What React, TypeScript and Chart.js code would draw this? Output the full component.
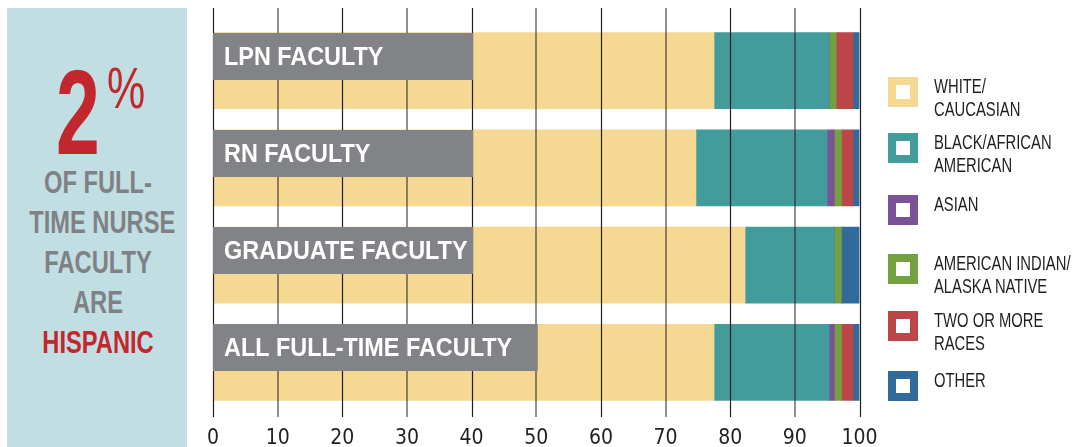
import React, { useEffect, useRef } from "react";
import { Chart, registerables } from "chart.js";

Chart.register(...registerables);

// ---- data ----
const categories = ["LPN FACULTY", "RN FACULTY", "GRADUATE FACULTY", "ALL FULL-TIME FACULTY"];
const seriesLabels = [
  ["WHITE/", "CAUCASIAN"],
  ["BLACK/AFRICAN", "AMERICAN"],
  ["ASIAN"],
  ["AMERICAN INDIAN/", "ALASKA NATIVE"],
  ["TWO OR MORE", "RACES"],
  ["OTHER"],
];
const whiteCaucasian = [77.5, 74.7, 82.3, 77.5];
const blackAfricanAmerican = [17.8, 20.3, 13.8, 17.8];
const asian = [0, 1.1, 0, 0.8];
const americanIndianAlaskaNative = [1.1, 1.1, 1.1, 1.1];
const twoOrMoreRaces = [2.6, 1.8, 0, 1.8];
const other = [1.0, 1.0, 2.8, 1.0];
const xTickValues = [0, 10, 20, 30, 40, 50, 60, 70, 80, 90, 100];
const labelBoxEnds = [40, 40, 40, 50];

const seriesColors = ["#f5d891", "#429c9b", "#7b5295", "#73a041", "#bb4748", "#316b9c"];
const seriesData = [whiteCaucasian, blackAfricanAmerican, asian, americanIndianAlaskaNative, twoOrMoreRaces, other];

const W = 1074;
const H = 447;
const SANS = "'Liberation Sans', Arial, sans-serif";
const COND = "'DejaVu Sans Condensed', sans-serif";

const overlayPlugin = {
  id: "overlay",
  afterDatasetsDraw(chart: any) {
    const ctx = chart.ctx;
    const xs = chart.scales.x;
    const ys = chart.scales.y;
    const area = chart.chartArea;
    ctx.save();
    // grid lines over bars
    xTickValues.forEach((v, i) => {
      const px = Math.round(xs.getPixelForValue(v));
      ctx.beginPath();
      if (i % 2 === 0) {
        ctx.strokeStyle = "#231f20";
        ctx.lineWidth = 1.2;
        ctx.moveTo(px + 0.5, 8);
        ctx.lineTo(px + 0.5, area.bottom + 6);
      } else {
        ctx.strokeStyle = "rgba(35,31,32,0.5)";
        ctx.lineWidth = 2;
        ctx.moveTo(px, 8);
        ctx.lineTo(px, area.bottom + 6);
      }
      ctx.stroke();
    });
    // label boxes
    categories.forEach((label, i) => {
      const yc = ys.getPixelForValue(i);
      const top = Math.round(yc - 38);
      const x0 = xs.getPixelForValue(0);
      const x1 = xs.getPixelForValue(labelBoxEnds[i]) + 1.5;
      ctx.fillStyle = "#828386";
      ctx.fillRect(x0, top, x1 - x0, 47);
      ctx.save();
      ctx.fillStyle = "#ffffff";
      ctx.font = "bold 26px " + SANS;
      ctx.textBaseline = "alphabetic";
      ctx.textAlign = "left";
      ctx.translate(x0 + 11, top + 32);
      ctx.scale(0.9, 1);
      ctx.fillText(label, 0, 0);
      ctx.restore();
    });
    ctx.restore();
  },
};

export default function App() {
  const canvasRef = useRef<HTMLCanvasElement | null>(null);

  useEffect(() => {
    const canvas = canvasRef.current;
    if (!canvas) return;
    const chart = new Chart(canvas, {
      type: "bar",
      data: {
        labels: categories,
        datasets: seriesData.map((d, i) => ({
          label: seriesLabels[i].join(" "),
          data: d,
          backgroundColor: seriesColors[i],
          borderWidth: 0,
          barThickness: 76,
        })),
      },
      options: {
        indexAxis: "y",
        responsive: false,
        animation: false,
        devicePixelRatio: 1,
        layout: { padding: { left: 213, right: W - 859.5, top: 22, bottom: 0 } },
        plugins: {
          legend: { display: false },
          tooltip: { enabled: false },
        },
        scales: {
          x: {
            type: "linear",
            stacked: true,
            min: 0,
            max: 100,
            position: "bottom",
            grid: { display: false, drawTicks: false },
            border: { display: false },
            ticks: {
              stepSize: 10,
              padding: 15,
              color: "#231f20",
              font: { family: COND, size: 21 },
              maxRotation: 0,
            },
            afterFit: (s: any) => {
              s.height = 36;
            },
          },
          y: {
            type: "category",
            stacked: true,
            display: false,
          },
        },
      },
      plugins: [overlayPlugin],
    } as any);
    return () => chart.destroy();
  }, []);

  const legendTops = [77, 133, 195, 254, 311, 371];
  const panelLines = ["OF FULL-", "TIME NURSE", "FACULTY", "ARE"];

  return (
    <div style={{ position: "absolute", left: 0, top: 0, width: W, height: H, background: "#fff", overflow: "hidden" }}>
      {/* left panel */}
      <div style={{ position: "absolute", left: 7, top: 8, width: 180, height: H - 8, background: "#c1dfe2" }} />
      <div
        style={{
          position: "absolute",
          left: 38,
          top: 52,
          width: 80,
          textAlign: "center",
          fontFamily: SANS,
          fontWeight: 700,
          fontSize: 121,
          lineHeight: "121px",
          color: "#c1272d",
          transform: "scaleX(0.65)",
        }}
      >
        2
      </div>
      <div
        style={{
          position: "absolute",
          left: 100,
          top: 59,
          width: 52,
          textAlign: "center",
          fontFamily: SANS,
          fontWeight: 400,
          fontSize: 58,
          lineHeight: "58px",
          color: "#c1272d",
          transform: "scaleX(0.74)",
        }}
      >
        %
      </div>
      <div
        style={{
          position: "absolute",
          left: 5,
          top: 162,
          width: 186,
          textAlign: "center",
          fontFamily: SANS,
          fontWeight: 700,
          fontSize: 32,
          lineHeight: "40px",
          color: "#808184",
          whiteSpace: "nowrap",
          transform: "scaleX(0.74)",
        }}
      >
        {panelLines.map((t, i) => (
          <div key={i}>{t}</div>
        ))}
        <div style={{ color: "#c1272d" }}>HISPANIC</div>
      </div>

      <canvas ref={canvasRef} width={W} height={H} style={{ position: "absolute", left: 0, top: 0, width: W, height: H }} />

      {/* legend */}
      {seriesLabels.map((lines, i) => (
        <React.Fragment key={i}>
          <div
            style={{
              position: "absolute",
              left: 888,
              top: legendTops[i],
              width: 14,
              height: 14,
              border: `8px solid ${seriesColors[i]}`,
              background: "#fff",
            }}
          />
          <div
            style={{
              position: "absolute",
              left: 934,
              top: legendTops[i] - 2,
              fontFamily: SANS,
              fontSize: 20,
              lineHeight: "23px",
              color: "#231f20",
              whiteSpace: "nowrap",
              transform: "scaleX(0.74)",
              transformOrigin: "left top",
            }}
          >
            {lines.map((l, j) => (
              <div key={j}>{l}</div>
            ))}
          </div>
        </React.Fragment>
      ))}
    </div>
  );
}
